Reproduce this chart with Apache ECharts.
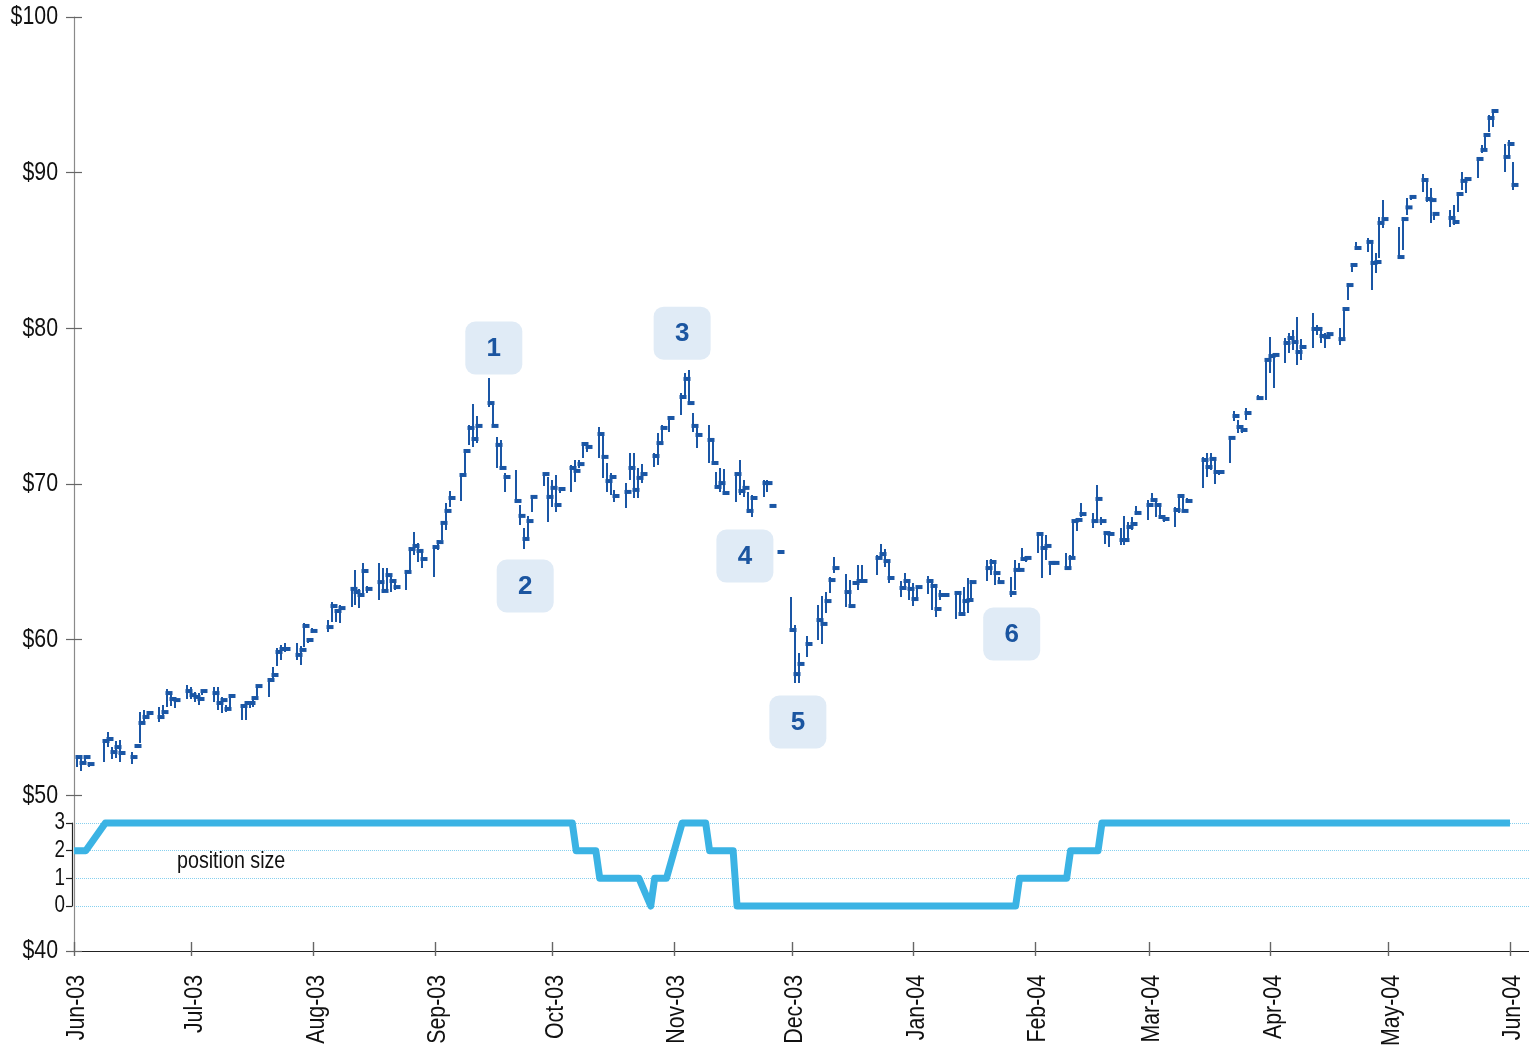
<!DOCTYPE html>
<html>
<head>
<meta charset="utf-8">
<script src="https://cdn.jsdelivr.net/npm/echarts@6/dist/echarts.min.js"></script>
<style>
html,body{margin:0;padding:0;background:#fff;}
#chart{width:1529px;height:1047px;}
</style>
</head>
<body>
<div id="chart"></div>
<script>
// ---------------- DATA ----------------
const dates = [
'2003-06-02','2003-06-03','2003-06-04','2003-06-05',
'2003-06-09','2003-06-10','2003-06-11','2003-06-12','2003-06-13',
'2003-06-16','2003-06-17','2003-06-18','2003-06-19','2003-06-20',
'2003-06-23','2003-06-24','2003-06-25','2003-06-26','2003-06-27',
'2003-06-30','2003-07-01','2003-07-02','2003-07-03','2003-07-04',
'2003-07-07','2003-07-08','2003-07-09','2003-07-10','2003-07-11',
'2003-07-14','2003-07-15','2003-07-16','2003-07-17','2003-07-18',
'2003-07-21','2003-07-22','2003-07-23','2003-07-24','2003-07-25',
'2003-07-28','2003-07-29','2003-07-30','2003-07-31','2003-08-01',
'2003-08-05','2003-08-06','2003-08-07','2003-08-08',
'2003-08-11','2003-08-12','2003-08-13','2003-08-14','2003-08-15',
'2003-08-18','2003-08-19','2003-08-20','2003-08-21','2003-08-22',
'2003-08-25','2003-08-26','2003-08-27','2003-08-28','2003-08-29',
'2003-09-01','2003-09-02','2003-09-03','2003-09-04','2003-09-05',
'2003-09-08','2003-09-09','2003-09-10','2003-09-11','2003-09-12',
'2003-09-15','2003-09-16','2003-09-17','2003-09-18','2003-09-19',
'2003-09-22','2003-09-23','2003-09-24','2003-09-25','2003-09-26',
'2003-09-29','2003-09-30','2003-10-01','2003-10-02','2003-10-03',
'2003-10-06','2003-10-07','2003-10-08','2003-10-09','2003-10-10',
'2003-10-13','2003-10-14','2003-10-15','2003-10-16','2003-10-17',
'2003-10-20','2003-10-21','2003-10-22','2003-10-23','2003-10-24',
'2003-10-27','2003-10-28','2003-10-29','2003-10-31',
'2003-11-03','2003-11-04','2003-11-05','2003-11-06','2003-11-07',
'2003-11-10','2003-11-11','2003-11-12','2003-11-13','2003-11-14',
'2003-11-17','2003-11-18','2003-11-19','2003-11-20','2003-11-21',
'2003-11-24','2003-11-25','2003-11-26','2003-11-28',
'2003-12-01','2003-12-02','2003-12-03','2003-12-05',
'2003-12-08','2003-12-09','2003-12-10','2003-12-11','2003-12-12',
'2003-12-15','2003-12-16','2003-12-17','2003-12-18','2003-12-19',
'2003-12-23','2003-12-24','2003-12-25','2003-12-26',
'2003-12-29','2003-12-30','2003-12-31','2004-01-01','2004-01-02',
'2004-01-05','2004-01-06','2004-01-07','2004-01-08','2004-01-09',
'2004-01-12','2004-01-13','2004-01-14','2004-01-15','2004-01-16',
'2004-01-20','2004-01-21','2004-01-22','2004-01-23',
'2004-01-26','2004-01-27','2004-01-28','2004-01-29','2004-01-30',
'2004-02-02','2004-02-03','2004-02-04','2004-02-05','2004-02-06',
'2004-02-09','2004-02-10','2004-02-11','2004-02-12','2004-02-13',
'2004-02-16','2004-02-17','2004-02-18','2004-02-19','2004-02-20',
'2004-02-23','2004-02-24','2004-02-25','2004-02-26','2004-02-27',
'2004-03-01','2004-03-02','2004-03-03','2004-03-04','2004-03-05',
'2004-03-08','2004-03-09','2004-03-10','2004-03-11',
'2004-03-15','2004-03-16','2004-03-17','2004-03-18','2004-03-19',
'2004-03-22','2004-03-23','2004-03-24','2004-03-25','2004-03-26',
'2004-03-29','2004-03-31','2004-04-01','2004-04-02',
'2004-04-05','2004-04-06','2004-04-07','2004-04-08','2004-04-09',
'2004-04-12','2004-04-13','2004-04-14','2004-04-15','2004-04-16',
'2004-04-19','2004-04-20','2004-04-21','2004-04-22','2004-04-23',
'2004-04-26','2004-04-27','2004-04-28','2004-04-29','2004-04-30',
'2004-05-04','2004-05-05','2004-05-06','2004-05-07',
'2004-05-10','2004-05-11','2004-05-12','2004-05-13',
'2004-05-17','2004-05-18','2004-05-19','2004-05-20','2004-05-21',
'2004-05-24','2004-05-25','2004-05-26','2004-05-27','2004-05-28',
'2004-05-31','2004-06-01','2004-06-02'
];
const highs = [
52.59,52.59,52.53,52.14,
53.55,54.07,53.10,53.49,53.55,
52.78,53.30,55.35,55.48,55.42,
55.67,55.80,56.83,56.44,56.32,
57.09,56.96,56.64,56.57,56.77,
56.96,56.96,56.32,55.80,56.44,
55.80,56.00,56.00,56.32,57.09,
57.47,58.24,59.47,59.66,59.79,
59.79,59.59,61.07,60.11,60.75,
61.26,62.42,61.97,62.23,
63.38,64.48,63.26,64.93,63.45,
64.93,64.60,64.60,64.02,63.70,
64.35,65.95,66.92,66.21,65.63,
66.08,66.40,67.56,68.78,69.55,
70.71,72.25,73.79,75.14,74.37,
76.81,75.20,73.02,72.83,70.71,
70.90,68.65,67.17,67.95,69.17,
70.71,70.45,70.26,70.58,69.81,
71.22,71.54,71.54,72.70,72.70,
73.66,73.28,71.35,70.71,69.62,
70.06,71.99,71.99,71.03,71.28,
71.99,73.28,73.79,74.30,
75.85,77.13,77.32,74.56,73.66,
73.79,72.83,70.77,71.03,70.96,
70.71,71.54,70.26,69.49,69.29,
70.26,70.26,68.59,65.63,
62.74,60.94,59.14,60.24,
62.23,62.81,63.06,64.03,65.31,
64.22,63.83,63.77,64.80,64.80,
65.44,66.15,65.82,64.99,
63.77,64.28,63.64,63.64,63.38,
64.09,63.83,63.38,63.19,62.93,
63.06,63.00,63.38,63.96,63.83,
65.12,65.18,64.99,64.03,
64.03,65.12,64.93,65.89,65.31,
66.85,66.85,66.72,64.99,65.05,
65.57,65.44,67.69,67.69,68.78,
68.14,69.94,67.88,66.92,66.85,
67.17,67.95,67.56,67.88,68.59,
68.97,69.42,68.97,68.65,67.88,
68.52,69.36,69.29,69.10,
71.74,71.99,71.99,71.74,70.90,
73.02,74.69,74.11,73.60,74.88,
75.71,78.09,79.44,78.41,
79.38,79.70,79.89,80.73,79.31,
80.98,80.21,79.89,79.70,79.76,
80.02,81.37,82.91,84.20,85.55,
85.80,85.48,84.84,87.15,88.24,
86.51,87.15,88.37,88.57,
89.91,89.53,89.01,87.41,
87.60,87.92,88.76,90.04,89.72,
91.01,91.78,92.55,93.70,94.03,
91.84,92.10,90.69
];
const lows = [
51.82,51.56,52.01,51.82,
52.14,53.10,52.33,52.40,52.14,
52.01,53.04,53.36,54.65,54.97,
54.71,55.16,55.67,55.74,55.61,
56.19,56.19,56.00,55.80,56.44,
56.00,55.48,55.29,55.35,55.48,
54.84,54.84,55.61,55.67,56.32,
56.32,57.47,58.31,58.69,59.21,
58.69,58.37,59.53,59.79,60.43,
60.49,61.13,61.13,61.07,
62.10,62.23,62.03,63.00,63.00,
62.55,63.00,63.19,63.06,63.19,
63.19,64.35,65.44,64.99,64.60,
64.03,65.76,66.40,67.05,68.52,
68.91,70.71,72.51,72.38,72.63,
74.95,73.66,71.03,70.90,69.49,
68.78,67.37,65.82,66.40,68.20,
69.87,67.56,68.52,68.20,69.42,
69.49,70.13,71.03,71.67,72.06,
71.67,70.39,69.49,69.29,68.84,
68.46,70.26,69.10,69.10,70.06,
71.09,71.22,72.70,73.34,
74.43,75.59,75.20,73.34,72.31,
71.35,71.22,69.74,69.49,69.42,
68.84,69.29,69.17,68.14,67.88,
69.17,69.49,68.59,65.63,
60.49,57.22,57.22,58.89,
59.98,59.72,61.71,63.00,64.28,
62.10,62.10,63.51,63.19,63.70,
64.15,65.18,64.67,63.64,
62.74,63.38,62.55,62.16,62.68,
62.93,61.91,61.46,62.55,62.74,
61.33,61.59,61.65,61.71,62.42,
63.77,64.15,63.51,63.64,
62.74,63.19,64.48,65.12,64.99,
65.57,63.96,65.12,64.15,64.80,
64.48,64.60,65.31,66.98,67.88,
67.17,67.50,67.37,66.15,65.95,
66.08,66.08,66.40,67.05,68.01,
67.69,68.84,67.88,67.82,67.56,
67.24,68.14,68.20,68.78,
69.74,70.45,70.90,70.00,70.58,
71.35,74.05,73.28,73.28,74.11,
75.39,75.39,77.13,76.17,
77.77,78.41,78.61,77.64,77.97,
78.74,79.57,79.06,78.74,79.44,
78.93,79.25,81.82,83.62,85.03,
84.90,82.46,83.56,84.52,86.45,
84.45,85.03,87.28,88.24,
88.76,88.11,86.77,86.96,
86.51,86.64,87.47,88.89,88.69,
89.66,91.26,91.46,92.61,92.93,
90.04,90.94,88.89
];
const closes = [
52.46,52.08,52.46,52.01,
53.49,53.62,52.78,53.10,52.72,
52.46,53.17,54.65,55.03,55.29,
55.03,55.35,56.57,56.19,56.12,
56.70,56.44,56.32,56.19,56.70,
56.57,55.93,56.12,55.55,56.38,
55.74,55.93,55.93,56.25,57.02,
57.41,57.73,59.21,59.40,59.40,
59.02,59.34,60.88,59.98,60.56,
60.81,62.16,61.84,62.03,
63.26,63.06,62.87,64.41,63.26,
63.70,63.13,64.15,63.77,63.38,
64.35,65.82,66.02,65.70,65.18,
65.95,66.27,67.50,68.27,69.10,
70.58,72.12,73.60,72.89,73.73,
75.20,73.73,72.51,71.03,70.45,
68.91,67.95,66.47,67.62,69.17,
70.64,69.17,69.75,68.65,69.68,
71.03,70.84,71.28,72.57,72.38,
73.21,71.74,70.19,70.45,69.23,
69.49,71.03,69.62,70.39,70.64,
71.80,72.63,73.60,74.24,
75.59,76.75,75.20,73.73,73.15,
72.83,71.35,69.81,70.06,69.42,
70.64,69.55,69.75,68.27,69.10,
70.06,70.06,68.59,65.63,
60.62,57.79,58.44,59.72,
61.26,61.01,62.48,63.83,64.60,
63.06,62.16,63.64,63.77,63.77,
65.25,65.50,65.05,63.96,
63.32,63.77,63.26,62.61,63.38,
63.77,63.45,61.97,62.87,62.87,
63.00,61.65,62.48,62.55,63.70,
64.60,64.99,64.28,63.70,
63.00,64.48,64.48,65.18,65.25,
66.79,65.89,66.02,64.93,64.93,
64.60,65.25,67.62,67.69,68.07,
67.62,69.04,67.62,66.85,66.79,
66.40,66.40,67.24,67.43,68.14,
68.65,68.97,68.65,67.88,67.75,
68.33,69.23,68.27,68.91,
71.54,71.09,71.61,70.77,70.77,
72.96,74.37,73.66,73.47,74.56,
75.52,77.97,78.22,78.29,
79.06,79.38,79.12,78.48,78.80,
79.96,79.96,79.51,79.44,79.63,
79.31,81.24,82.78,84.07,85.16,
85.55,84.20,84.26,86.77,87.02,
84.58,87.02,87.77,88.44,
89.53,88.31,88.24,87.35,
87.09,86.83,88.63,89.47,89.59,
90.88,91.46,92.42,93.51,93.96,
91.01,91.84,89.21
];

// position size (number of units held)
const posDates = ['2003-06-01','2003-06-04','2003-06-09','2003-10-06','2003-10-07','2003-10-12','2003-10-13','2003-10-23','2003-10-26','2003-10-27','2003-10-30','2003-11-03','2003-11-09','2003-11-10','2003-11-16','2003-11-17','2004-01-27','2004-01-28','2004-02-09','2004-02-10','2004-02-17','2004-02-18','2004-06-01'];
const posValues = [2,2,3,3,2,2,1,1,0,1,1,3,3,2,2,0,0,1,1,2,2,3,3];

// numbered callouts
const noteLabels = ['1','2','3','4','5','6'];
const noteDates = ['2003-09-16','2003-09-24','2003-11-03','2003-11-19','2003-12-02 12:00:00','2004-01-26'];
const notePrices = [78.74,63.45,79.69,65.37,54.71,60.36];

// axis ticks
const monthNames = ['Jan','Feb','Mar','Apr','May','Jun','Jul','Aug','Sep','Oct','Nov','Dec'];
const monthTicks = ['2003-06-01','2003-07-01','2003-08-01','2003-09-01','2003-10-01','2003-11-01','2003-12-01','2004-01-01','2004-02-01','2004-03-01','2004-04-01','2004-05-01','2004-06-01'];
const priceTicks = [40,50,60,70,80,90,100];
const posTicks = [0,1,2,3];

// ---------------- CHART ----------------
const FONT = "'Liberation Sans', Arial, sans-serif";
const NARROW = 0.82;           // horizontal squeeze to imitate a narrow face
const BAR_COLOR = '#1a56a5';
const GRID_BLUE = '#86d0ef';
function toTs(s){
  const p = s.split(/[- :]/).map(Number);
  return new Date(p[0], p[1]-1, p[2], p[3]||0, p[4]||0, p[5]||0).getTime();
}
const X_MIN = toTs('2003-06-01');
const X_MAX = toTs('2004-06-05 20:24:00');
const monthTs = monthTicks.map(toTs);
const fmtMonth = v => { const d = new Date(v); return monthNames[d.getMonth()] + '-' + String(d.getFullYear()).slice(2); };

const barData = dates.map((d,i) => [toTs(d), highs[i], lows[i], closes[i]]);
const posData = posDates.map((d,i) => [toTs(d), posValues[i]]);
const noteData = noteDates.map((d,i) => [toTs(d), notePrices[i]]);

const chart = echarts.init(document.getElementById('chart'), null, {renderer:'canvas'});

const baseX = {type:'value', min:X_MIN, max:X_MAX, splitLine:{show:false}, scale:true, position:'bottom'};

function labelText(x, y, text, size, align, rotation){
  return {type:'text', x:x, y:y, rotation:rotation||0, scaleX:NARROW,
    style:{text:text, font:size + 'px ' + FONT, fill:'#111', align:align, verticalAlign:'middle'}};
}

const option = {
  animation:false,
  backgroundColor:'#fff',
  grid:[
    {left:74, right:0, top:17, height:934, outerBoundsMode:'none', containLabel:false},
    {left:74, right:0, top:823, height:83, outerBoundsMode:'none', containLabel:false}
  ],
  xAxis:[
    Object.assign({}, baseX, {
      gridIndex:0,
      axisLine:{show:true, lineStyle:{color:'#222', width:1.2}},
      axisTick:{show:true, length:5, customValues:monthTs, lineStyle:{color:'#666', width:1.4}},
      axisLabel:{show:false}
    }),
    Object.assign({}, baseX, {
      gridIndex:0,
      axisLine:{show:false},
      axisTick:{show:true, inside:true, length:9, customValues:monthTs, lineStyle:{color:'#666', width:1.4}},
      axisLabel:{show:false}
    }),
    Object.assign({}, baseX, {gridIndex:1, show:false})
  ],
  yAxis:[
    {type:'value', gridIndex:0, position:'left', min:40, max:100, interval:10,
      axisLine:{show:true, lineStyle:{color:'#8a8a8a', width:1.2}},
      axisTick:{show:true, length:8, customValues:priceTicks, lineStyle:{color:'#666', width:1.2}},
      axisLabel:{show:false}, splitLine:{show:false}},
    {type:'value', gridIndex:0, position:'left', min:40, max:100, interval:10,
      axisLine:{show:false},
      axisTick:{show:true, inside:true, length:8, customValues:priceTicks, lineStyle:{color:'#666', width:1.2}},
      axisLabel:{show:false}, splitLine:{show:false}},
    {type:'value', gridIndex:1, position:'left', min:0, max:3, interval:1, offset:2,
      axisLine:{show:true, lineStyle:{color:'#222', width:1.2}},
      axisTick:{show:true, length:6, lineStyle:{color:'#222', width:1.2}},
      axisLabel:{show:false},
      splitLine:{show:true, lineStyle:{color:[GRID_BLUE, GRID_BLUE, GRID_BLUE, GRID_BLUE], type:'dotted', width:1}}}
  ],
  graphic:[
    {type:'text', x:177, y:861, scaleX:NARROW, style:{text:'position size', font:'24px ' + FONT, fill:'#111', align:'left', verticalAlign:'middle'}}
  ],
  series:[
    {
      type:'line', xAxisIndex:2, yAxisIndex:2, data:posData, showSymbol:false, clip:false,
      lineStyle:{color:'#3bb3e4', width:7, join:'round'}, z:3
    },
    {
      type:'custom', xAxisIndex:0, yAxisIndex:0, data:barData, clip:false,
      encode:{x:0, y:[1,2,3]},
      renderItem:function(params, api){
        const t = api.value(0);
        const hi = api.coord([t, api.value(1)]);
        const lo = api.coord([t, api.value(2)]);
        const cl = api.coord([t, api.value(3)]);
        const x = Math.round(hi[0]) - 1;
        return {type:'group', children:[
          {type:'line', shape:{x1:x, y1:hi[1], x2:x, y2:lo[1]}, style:{stroke:BAR_COLOR, lineWidth:2}},
          {type:'rect', shape:{x:x-1.5, y:cl[1]-2, width:7, height:4}, style:{fill:BAR_COLOR}}
        ]};
      }, z:4
    },
    {
      type:'custom', xAxisIndex:0, yAxisIndex:0, data:noteData, clip:false,
      encode:{x:0, y:1},
      renderItem:function(params, api){
        const c = api.coord([api.value(0), api.value(1)]);
        return {type:'group', children:[
          {type:'rect', shape:{x:c[0]-28.5, y:c[1]-26.5, width:57, height:53, r:10}, style:{fill:'#e0ebf6'}},
          {type:'text', x:c[0], y:c[1]+1, style:{text:noteLabels[params.dataIndex], font:'bold 26px ' + FONT, fill:'#1b55a0', align:'center', verticalAlign:'middle'}}
        ]};
      }, z:2
    },
    // price axis labels
    {
      type:'custom', xAxisIndex:0, yAxisIndex:0, clip:false, silent:true,
      data:priceTicks.map(v => [X_MIN, v]), encode:{x:0, y:1},
      renderItem:function(params, api){
        const c = api.coord([api.value(0), api.value(1)]);
        return labelText(c[0]-16, c[1], '$' + priceTicks[params.dataIndex], 26, 'right', 0);
      }
    },
    // month labels (rotated)
    {
      type:'custom', xAxisIndex:0, yAxisIndex:0, clip:false, silent:true,
      data:monthTs.map(t => [t, 40]), encode:{x:0, y:1},
      renderItem:function(params, api){
        const c = api.coord([api.value(0), api.value(1)]);
        return labelText(c[0]+3, c[1]+24, fmtMonth(monthTs[params.dataIndex]), 26, 'right', Math.PI/2);
      }
    },
    // position axis labels
    {
      type:'custom', xAxisIndex:2, yAxisIndex:2, clip:false, silent:true,
      data:posTicks.map(v => [X_MIN, v]), encode:{x:0, y:1},
      renderItem:function(params, api){
        const c = api.coord([api.value(0), api.value(1)]);
        return labelText(c[0]-9, c[1], String(posTicks[params.dataIndex]), 23, 'right', 0);
      }
    }
  ]
};
chart.setOption(option);
</script>
</body>
</html>
